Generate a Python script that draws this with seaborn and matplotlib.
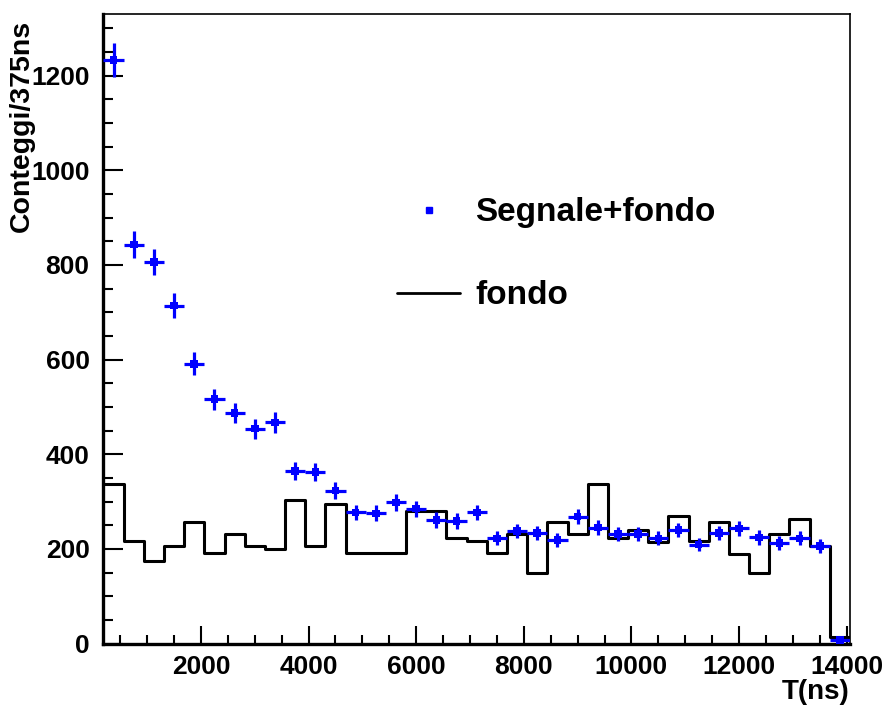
import numpy as np
import pandas as pd
import matplotlib
matplotlib.use("Agg")
import matplotlib.pyplot as plt
import seaborn as sns
from matplotlib.ticker import MultipleLocator, FixedLocator
from matplotlib.lines import Line2D

# ---------------- data ----------------
bin_centers = [375, 750, 1125, 1500, 1875, 2250, 2625, 3000, 3375, 3750,
               4125, 4500, 4875, 5250, 5625, 6000, 6375, 6750, 7125, 7500,
               7875, 8250, 8625, 9000, 9375, 9750, 10125, 10500, 10875, 11250,
               11625, 12000, 12375, 12750, 13125, 13500, 13875]
bin_half_width = 187.5

segnale_fondo = [1233, 843, 806, 714, 591, 516, 487, 454, 467, 364,
                 362, 323, 277, 275, 298, 285, 261, 259, 277, 222,
                 238, 233, 219, 268, 245, 231, 231, 222, 240, 209,
                 234, 243, 224, 212, 222, 206, 8]

fondo = [337, 217, 174, 207, 256, 192, 231, 207, 199, 303,
         207, 295, 192, 192, 192, 280, 280, 222, 217, 192,
         231, 150, 256, 231, 337, 222, 240, 215, 270, 217,
         256, 190, 150, 231, 264, 207, 13]

x_ticks = [2000, 4000, 6000, 8000, 10000, 12000, 14000]
y_ticks = [0, 200, 400, 600, 800, 1000, 1200]
x_label = "T(ns)"
y_label = "Conteggi/375ns"
legend_labels = ["Segnale+fondo", "fondo"]

# ---------------- frames ----------------
sig_df = pd.DataFrame({"t": bin_centers, "n": segnale_fondo})
sig_df["err"] = np.sqrt(sig_df["n"])

edges = [c - bin_half_width for c in bin_centers] + [bin_centers[-1] + bin_half_width]
bg_df = pd.DataFrame({"t": edges, "n": fondo + [fondo[-1]]})

# ---------------- style ----------------
sns.set_style("ticks")
plt.rcParams["font.family"] = ["Liberation Sans", "DejaVu Sans"]
plt.rcParams["font.weight"] = "bold"
plt.rcParams["text.color"] = "black"
plt.rcParams["axes.labelcolor"] = "black"
plt.rcParams["xtick.color"] = "black"
plt.rcParams["ytick.color"] = "black"
plt.rcParams["axes.edgecolor"] = "black"

blue = "#0000ff"

fig = plt.figure(figsize=(8.89, 7.07), dpi=100)
ax = fig.add_axes([0.1164, 0.0898, 0.8397, 0.8904])

# background histogram (step)
sns.lineplot(data=bg_df, x="t", y="n", drawstyle="steps-post", color="black",
             lw=2.2, estimator=None, sort=False, ax=ax)

# signal + background with error bars
ax.errorbar(sig_df["t"], sig_df["n"], xerr=bin_half_width, yerr=sig_df["err"],
            fmt="none", ecolor=blue, elinewidth=2.3, capsize=0, zorder=3)
sns.scatterplot(data=sig_df, x="t", y="n", marker="s", s=30, color=blue,
                edgecolor="none", ax=ax, zorder=4)

ax.set_xlim(edges[0], edges[-1])
ax.set_ylim(0, 1330)

ax.xaxis.set_major_locator(FixedLocator(x_ticks))
ax.xaxis.set_minor_locator(MultipleLocator(500))
ax.yaxis.set_major_locator(FixedLocator(y_ticks))
ax.yaxis.set_minor_locator(MultipleLocator(50))

ax.tick_params(axis="both", which="both", direction="in", width=1.5,
               top=False, right=False, labelsize=19, colors="black")
ax.tick_params(axis="y", which="major", length=14.5, pad=10)
ax.tick_params(axis="y", which="minor", length=7)
ax.tick_params(axis="x", which="major", length=13, pad=8)
ax.tick_params(axis="x", which="minor", length=6.5)
for lab in ax.get_xticklabels() + ax.get_yticklabels():
    lab.set_fontweight("bold")
    lab.set_color("black")

for side in ["left", "bottom"]:
    ax.spines[side].set_linewidth(2.4)
    ax.spines[side].set_color("black")
for side in ["top", "right"]:
    ax.spines[side].set_linewidth(1.2)
    ax.spines[side].set_color("black")
    ax.spines[side].set_visible(True)

ax.set_xlabel(x_label, fontsize=20, fontweight="bold", loc="right", color="black")
ax.xaxis.set_label_coords(1.0, -0.057)
ax.set_ylabel(y_label, fontsize=20.5, fontweight="bold", loc="top", color="black")
ax.yaxis.set_label_coords(-0.092, 0.99)

handles = [Line2D([], [], marker="s", ls="none", color=blue, markersize=4),
           Line2D([], [], color="black", lw=2)]
leg = ax.legend(handles, legend_labels, loc="upper left", bbox_to_anchor=(0.393, 0.709),
                frameon=False, prop={"weight": "bold", "size": 24},
                handlelength=1.9, handletextpad=0.45, labelspacing=1.56, borderpad=0,
                borderaxespad=0)
for t in leg.get_texts():
    t.set_color("black")

fig.savefig("out.png", dpi=100)
